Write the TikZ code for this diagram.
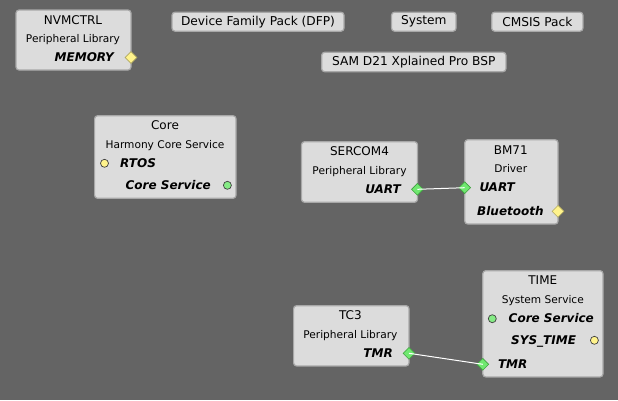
\documentclass[tikz,border=0pt]{standalone}
\usepackage{fontspec}
\setmainfont{DejaVu Sans}
\usetikzlibrary{shapes.geometric}
\definecolor{bg}{HTML}{646464}
\definecolor{boxfill}{HTML}{DCDCDC}
\definecolor{boxline}{HTML}{A8A8A8}
\definecolor{pgreen}{HTML}{70E870}
\definecolor{pgreenline}{HTML}{3FA03F}
\definecolor{pyellow}{HTML}{FFF38C}
\definecolor{pyellowline}{HTML}{B0A860}
\tikzset{
  compbox/.style={draw=boxline, fill=boxfill, line width=1.2pt, rounded corners=3pt, inner sep=0pt},
  btnbox/.style={compbox, font=\fontsize{12.2}{14}\selectfont, text=black},
  txtshift/.style={yshift=-1.5pt},
  ttl/.style={txtshift, anchor=mid, inner sep=0pt, font=\fontsize{12}{14}\selectfont},
  sub/.style={txtshift, anchor=mid, inner sep=0pt, font=\fontsize{10.6}{12}\selectfont},
  lbl/.style={txtshift, inner sep=0pt, font=\fontsize{12}{14}\selectfont\bfseries\itshape},
  gdia/.style={diamond, aspect=1, minimum size=12pt, inner sep=0pt, fill=pgreen, draw=pgreenline, line width=0.6pt},
  ydia/.style={diamond, aspect=1, minimum size=12pt, inner sep=0pt, fill=pyellow, draw=pyellowline, line width=0.6pt},
  gcirc/.style={circle, minimum size=8pt, inner sep=0pt, fill=pgreen!85!white, draw=black!75, line width=0.7pt},
  ycirc/.style={circle, minimum size=8pt, inner sep=0pt, fill=pyellow, draw=black!75, line width=0.7pt},
  wire/.style={draw=white, line width=1pt}
}
\begin{document}
\begin{tikzpicture}[x=1pt, y=-1pt]
\fill[bg] (0,0) rectangle (618,400);
\useasboundingbox (0,0) rectangle (618,400);

% buttons
\node[btnbox, minimum width=172pt, minimum height=19pt] (dfp) at (258,21.7) {Device Family Pack (DFP)};
\node[btnbox, minimum width=64.5pt, minimum height=19pt] (sys) at (423.8,21.7) {System};
\node[btnbox, minimum width=91.3pt, minimum height=19pt] (cmsis) at (537.3,21.7) {CMSIS Pack};
\node[btnbox, minimum width=184.3pt, minimum height=19.4pt] (bsp) at (413.8,62) {SAM D21 Xplained Pro BSP};

% NVMCTRL
\node[compbox, minimum width=115pt, minimum height=60pt] (nvm) at (73.5,40) {};
\node[ttl] (nvmT) at (73,20) {NVMCTRL};
\node[sub] (nvmS) at (73,38.5) {Peripheral Library};
\node[lbl, anchor=mid east] (nvmL) at (114,57.5) {MEMORY};
\node[ydia] (nvmP) at (131,57.5) {};

% Core
\node[compbox, minimum width=141.4pt, minimum height=82.6pt] (core) at (165.3,157) {};
\node[ttl] (coreT) at (165,125.7) {Core};
\node[sub] (coreS) at (165,144.7) {Harmony Core Service};
\node[ycirc] (coreP1) at (104.5,163.3) {};
\node[lbl, anchor=mid west] (coreL1) at (120,163.3) {RTOS};
\node[lbl, anchor=mid east] (coreL2) at (211,185.3) {Core Service};
\node[gcirc] (coreP2) at (227.4,185.3) {};

% SERCOM4
\node[compbox, minimum width=116pt, minimum height=60.6pt] (ser) at (359.5,172) {};
\node[ttl] (serT) at (359.5,151.7) {SERCOM4};
\node[sub] (serS) at (359.5,170.7) {Peripheral Library};
\node[lbl, anchor=mid east] (serL) at (401,189.3) {UART};
\node[gdia] (serP) at (417.4,189.3) {};

% BM71
\node[compbox, minimum width=93.3pt, minimum height=84.3pt] (bm) at (511.4,181.9) {};
\node[ttl] (bmT) at (510.8,150) {BM71};
\node[sub] (bmS) at (510.8,168.7) {Driver};
\node[gdia] (bmP1) at (464.7,187.7) {};
\node[lbl, anchor=mid west] (bmL1) at (479.3,187.7) {UART};
\node[lbl, anchor=mid west] (bmL2) at (477,211.3) {Bluetooth};
\node[ydia] (bmP2) at (558,211.3) {};

% TC3
\node[compbox, minimum width=115.4pt, minimum height=60.3pt] (tc) at (351.3,335.8) {};
\node[ttl] (tcT) at (350.4,315.3) {TC3};
\node[sub] (tcS) at (350.4,334.3) {Peripheral Library};
\node[lbl, anchor=mid east] (tcL) at (393,353.3) {TMR};
\node[gdia] (tcP) at (409,353.3) {};

% TIME
\node[compbox, minimum width=120.2pt, minimum height=106.3pt] (time) at (542.9,323.8) {};
\node[ttl] (timeT) at (542.8,280.7) {TIME};
\node[sub] (timeS) at (542.8,299.7) {System Service};
\node[gcirc] (timeP1) at (492.3,318.7) {};
\node[lbl, anchor=mid west] (timeL1) at (508.5,318.7) {Core Service};
\node[lbl, anchor=mid west] (timeL2) at (511,340.3) {SYS\_TIME};
\node[ycirc] (timeP2) at (594.4,340.3) {};
\node[gdia] (timeP3) at (482.8,364.3) {};
\node[lbl, anchor=mid west] (timeL3) at (497.8,364.3) {TMR};

% connections
\draw[wire] (serP.center) -- (bmP1.center);
\draw[wire] (tcP.center) -- (timeP3.center);
\end{tikzpicture}
\end{document}
